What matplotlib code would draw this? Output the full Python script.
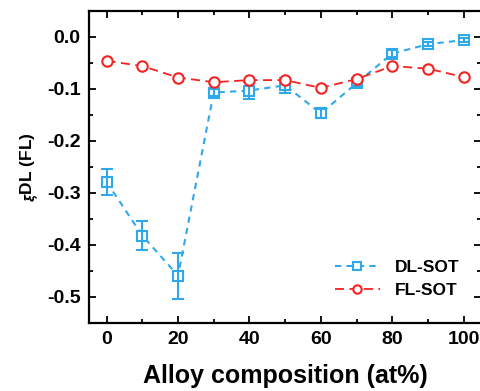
import matplotlib
matplotlib.use('Agg')

import numpy as np
import matplotlib.pyplot as plt
from matplotlib.ticker import MultipleLocator

# alloy composition (at%)
composition = [0, 10, 20, 30, 40, 50, 60, 70, 80, 90, 100]

# damping-like SOT efficiency and its error
dl_sot = [-0.279, -0.382, -0.459, -0.107, -0.103, -0.093, -0.147, -0.089, -0.032, -0.014, -0.006]
dl_err = [0.025, 0.028, 0.044, 0.006, 0.017, 0.014, 0.008, 0.005, 0.006, 0.004, 0.004]

# field-like SOT efficiency
fl_sot = [-0.046, -0.056, -0.078, -0.087, -0.083, -0.083, -0.098, -0.081, -0.056, -0.061, -0.077]

x_ticks = [0, 20, 40, 60, 80, 100]
y_ticks = [0.0, -0.1, -0.2, -0.3, -0.4, -0.5]

blue = '#30a8ec'
red = '#f52222'

plt.rcParams['font.family'] = ['Liberation Sans', 'DejaVu Sans']
plt.rcParams['font.weight'] = 'bold'
plt.rcParams['mathtext.fontset'] = 'custom'
plt.rcParams['mathtext.rm'] = 'Liberation Sans:bold'
plt.rcParams['mathtext.bf'] = 'Liberation Sans:bold'


def main():
    fig = plt.figure(figsize=(4.8, 3.91), dpi=100)
    ax = fig.add_axes([0.185, 0.174, 0.818, 0.798])

    dl_line, = ax.plot(composition, dl_sot, color=blue, ls=(0, (3, 2.5)), lw=1.5,
                       marker='s', ms=7.5, mfc='white', mec=blue, mew=1.5, zorder=2)
    ax.errorbar(composition, dl_sot, yerr=dl_err, fmt='none', ecolor=blue,
                capsize=4, elinewidth=1.5, capthick=1.5, zorder=2)
    fl_line, = ax.plot(composition, fl_sot, color=red, ls=(0, (5, 3)), lw=1.3,
                       marker='o', ms=7.5, mfc='white', mec=red, mew=1.5, zorder=3)

    ax.set_xlim(-5, 105)
    ax.set_ylim(-0.55, 0.05)
    ax.set_xticks(x_ticks)
    ax.set_yticks(y_ticks)
    ax.set_yticklabels(['{:.1f}'.format(v) for v in y_ticks])
    ax.xaxis.set_minor_locator(MultipleLocator(10))
    ax.yaxis.set_minor_locator(MultipleLocator(0.05))

    ax.tick_params(which='both', direction='in', top=True, right=True, width=1.3)
    ax.tick_params(which='major', length=5, labelsize=14, pad=6)
    ax.tick_params(which='minor', length=3)
    for s in ax.spines.values():
        s.set_linewidth(1.6)
    for lbl in ax.get_xticklabels() + ax.get_yticklabels():
        lbl.set_fontweight('bold')

    ax.set_xlabel('Alloy composition (at%)', fontsize=18, fontweight='bold', labelpad=11)
    # small xi followed by the larger "DL (FL)" as in the original label
    ax.set_ylabel(r'$_{\xi}$DL (FL)', fontsize=12.5, fontweight='bold', labelpad=4)

    leg = ax.legend([dl_line, fl_line], ['DL-SOT', 'FL-SOT'], loc='lower right',
                    frameon=False, fontsize=12.5, handlelength=2.6, handletextpad=0.9,
                    markerscale=0.8, labelspacing=0.45, bbox_to_anchor=(0.985, 0.03))
    for t in leg.get_texts():
        t.set_fontweight('bold')

    fig.savefig('out.png', dpi=100)


if __name__ == '__main__':
    main()
